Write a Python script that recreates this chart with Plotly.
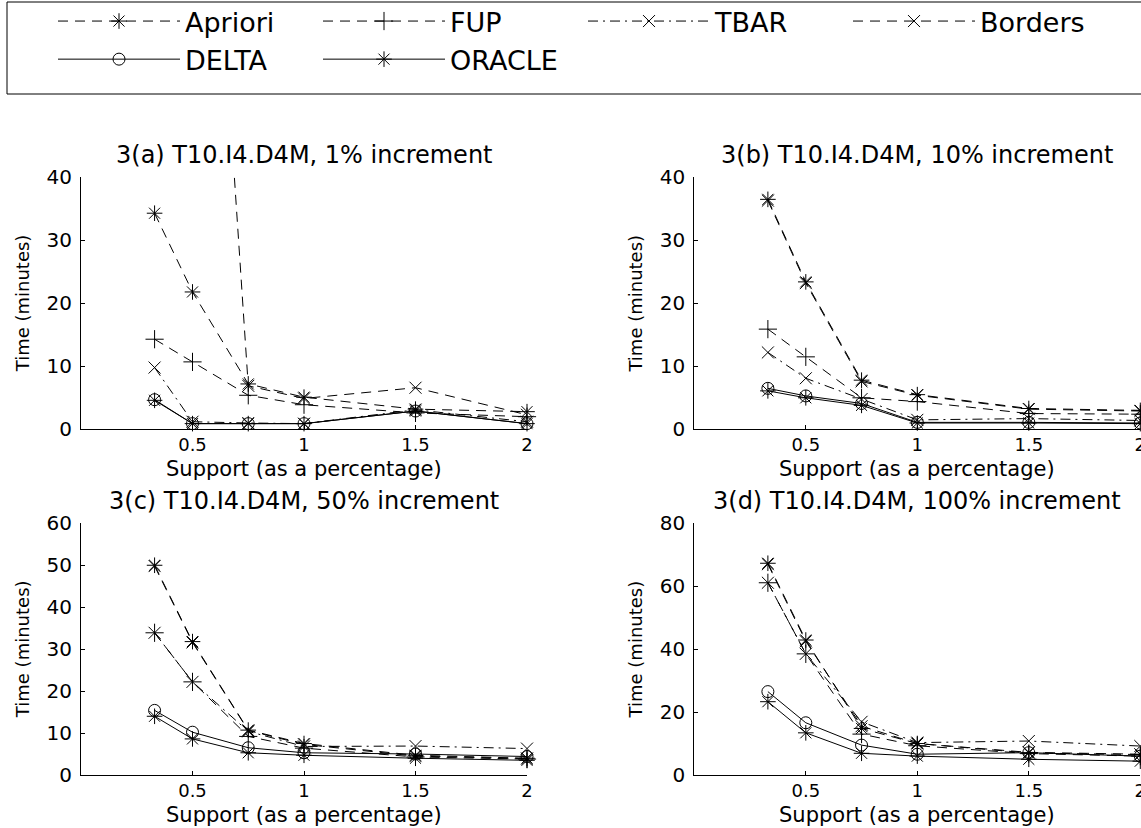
import plotly.graph_objects as go

# ---------------- data ----------------
support = [0.33, 0.5, 0.75, 1, 1.5, 2]
tick_vals = [0.5, 1, 1.5, 2]
tick_text = ["0.5", "1", "1.5", "2"]

series_names = ["Apriori", "FUP", "TBAR", "Borders", "DELTA", "ORACLE"]

# 3(a) 1% increment
a_apriori = [34.3, 21.8, 7.2, 5.1, 3.2, 2.8]
a_fup = [14.3, 10.7, 5.4, 3.9, 2.6, 2.0]
a_tbar = [9.8, 1.2, 1.0, 0.9, 3.1, 1.2]
a_borders = [250, 140, 6.9, 4.9, 6.6, 2.3]
a_delta = [4.7, 0.9, 0.9, 0.9, 2.9, 0.9]
a_oracle = [4.6, 0.9, 0.9, 0.9, 2.9, 0.9]

# 3(b) 10% increment
b_apriori = [36.5, 23.4, 7.8, 5.5, 3.3, 3.0]
b_fup = [15.9, 11.5, 5.0, 4.4, 2.5, 2.4]
b_tbar = [12.2, 8.1, 4.8, 1.5, 1.7, 1.4]
b_borders = [36.3, 23.2, 7.6, 5.4, 3.2, 2.9]
b_delta = [6.5, 5.3, 4.1, 1.1, 1.1, 1.0]
b_oracle = [6.1, 5.0, 3.8, 1.0, 1.0, 0.9]

# 3(c) 50% increment
c_apriori = [50.0, 31.8, 10.7, 7.5, 4.7, 4.0]
c_fup = [33.9, 22.2, 9.2, 6.4, 4.3, 3.8]
c_tbar = [33.9, 22.2, 10.4, 6.8, 6.9, 6.3]
c_borders = [49.8, 31.6, 10.6, 7.3, 4.5, 3.9]
c_delta = [15.4, 10.2, 6.5, 5.3, 5.0, 4.4]
c_oracle = [14.0, 8.6, 5.3, 4.7, 4.0, 3.5]

# 3(d) 100% increment
d_apriori = [67.3, 42.9, 14.8, 10.0, 7.0, 6.5]
d_fup = [61.1, 38.5, 13.0, 9.3, 6.8, 6.0]
d_tbar = [61.1, 38.5, 16.9, 10.3, 10.8, 9.2]
d_borders = [67.0, 42.5, 15.5, 10.0, 7.2, 6.6]
d_delta = [26.5, 16.6, 9.5, 6.6, 7.1, 6.0]
d_oracle = [23.3, 13.4, 6.9, 6.0, 5.0, 4.4]

panel_titles = ["3(a) T10.I4.D4M, 1% increment", "3(b) T10.I4.D4M, 10% increment",
                "3(c) T10.I4.D4M, 50% increment", "3(d) T10.I4.D4M, 100% increment"]
y_max = [40, 40, 60, 80]
y_step = [10, 10, 10, 20]
x_title = "Support (as a percentage)"
y_title = "Time (minutes)"

panels = [
    [a_apriori, a_fup, a_tbar, a_borders, a_delta, a_oracle],
    [b_apriori, b_fup, b_tbar, b_borders, b_delta, b_oracle],
    [c_apriori, c_fup, c_tbar, c_borders, c_delta, c_oracle],
    [d_apriori, d_fup, d_tbar, d_borders, d_delta, d_oracle],
]

# ---------------- styling ----------------
W, H = 1141, 828
FONT = "DejaVu Sans"
DASH = "10px,7px"
DASHDOT = "10px,5px,2px,5px"
styles = {
    "Apriori": dict(symbol="asterisk-open", dash=DASH, size=13),
    "FUP": dict(symbol="cross-thin-open", dash=DASH, size=13),
    "TBAR": dict(symbol="x-thin-open", dash=DASHDOT, size=12),
    "Borders": dict(symbol="x-thin-open", dash=DASH, size=12),
    "DELTA": dict(symbol="circle-open", dash="solid", size=12),
    "ORACLE": dict(symbol="asterisk-open", dash="solid", size=13),
}

# pixel geometry of the four plot areas (left, right, top, bottom)
boxes = [(81, 527, 177.3, 429.3), (694.3, 1140.3, 177.3, 429.3),
         (81, 527, 523.3, 775), (694.3, 1140.3, 523.3, 775)]

fig = go.Figure()
for p, data in enumerate(panels):
    xa = "x" if p == 0 else f"x{p+1}"
    ya = "y" if p == 0 else f"y{p+1}"
    for name, vals in zip(series_names, data):
        st = styles[name]
        clip = (p == 0 and name == "Borders")
        fig.add_trace(go.Scatter(
            x=support, y=vals, name=name, mode="lines+markers",
            xaxis=xa, yaxis=ya, legendgroup=name, showlegend=(p == 0),
            cliponaxis=clip,
            line=dict(color="black", width=1, dash=st["dash"]),
            marker=dict(symbol=st["symbol"], size=st["size"], color="black",
                        line=dict(color="black", width=1)),
        ))

layout = dict(width=W, height=H,
              margin=dict(l=0, r=0, t=0, b=0, autoexpand=False),
              paper_bgcolor="white", plot_bgcolor="white",
              font=dict(family=FONT, size=20, color="black"), annotations=[], shapes=[])

for p, (l, r, t, b) in enumerate(boxes):
    xk = "xaxis" if p == 0 else f"xaxis{p+1}"
    yk = "yaxis" if p == 0 else f"yaxis{p+1}"
    ya = "y" if p == 0 else f"y{p+1}"
    xa = "x" if p == 0 else f"x{p+1}"
    layout[xk] = dict(domain=[l / W, r / W], range=[0, 2], anchor=ya,
                      tickvals=tick_vals, ticktext=tick_text, ticks="inside",
                      ticklen=4, tickcolor="black", showline=True, linecolor="black",
                      linewidth=1, showgrid=False, zeroline=False,
                      ticklabeloverflow="allow",
                      tickfont=dict(family=FONT, size=18), ticklabelstandoff=-1)
    layout[yk] = dict(domain=[1 - b / H, 1 - t / H], range=[0, y_max[p]], anchor=xa,
                      dtick=y_step[p], tick0=0, ticks="inside", ticklen=4,
                      tickcolor="black", showline=True, linecolor="black",
                      linewidth=1, showgrid=False, zeroline=False,
                      ticklabeloverflow="allow",
                      tickfont=dict(family=FONT, size=20), ticklabelstandoff=4)
    cx = (l + r) / 2 / W
    layout["annotations"] += [
        dict(text=panel_titles[p], x=cx, y=1 - (t - 22) / H, xref="paper", yref="paper",
             xanchor="center", yanchor="middle", showarrow=False,
             font=dict(family=FONT, size=24)),
        dict(text=x_title, x=cx, y=1 - (b + 40) / H, xref="paper", yref="paper",
             xanchor="center", yanchor="middle", showarrow=False,
             font=dict(family=FONT, size=21)),
        dict(text=y_title, x=(l - 59) / W, y=1 - (t + b) / 2 / H, xref="paper",
             yref="paper", xanchor="center", yanchor="middle", textangle=-90,
             showarrow=False, font=dict(family=FONT, size=18)),
    ]

# legend frame (decoration)
layout["shapes"].append(dict(type="rect", xref="paper", yref="paper",
                             x0=7 / W, x1=1.003, y0=1 - 94 / H, y1=1 - 2 / H,
                             line=dict(color="black", width=1), fillcolor="rgba(0,0,0,0)"))

layout["legend"] = dict(orientation="h", x=53 / W, y=1 + 3 / H, xanchor="left", yanchor="top",
                        borderwidth=0, bgcolor="rgba(0,0,0,0)",
                        font=dict(family=FONT, size=27), entrywidth=128,
                        entrywidthmode="pixels", itemwidth=122, tracegroupgap=0)
fig.update_layout(**layout)
fig.write_html("out.html")
